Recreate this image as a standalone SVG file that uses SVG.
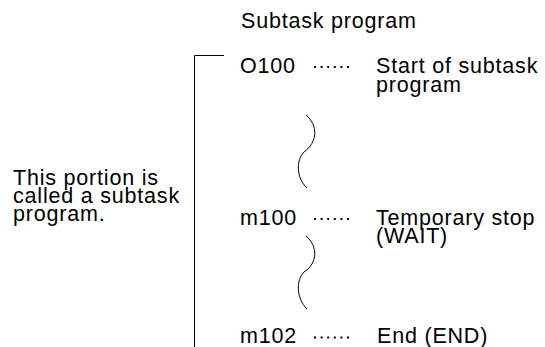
<svg xmlns="http://www.w3.org/2000/svg" width="545" height="347" viewBox="0 0 545 347">
<style>
text{font-family:"Liberation Sans",Arial,sans-serif;font-size:21.5px;letter-spacing:0.8px;fill:#000}
.ln{fill:none;stroke:#000;stroke-width:1}
.dot{fill:none;stroke:#000;stroke-width:2;stroke-dasharray:2 4.6}
</style>
<rect width="545" height="347" fill="#fff"/>
<text x="241" y="28">Subtask program</text>
<g id="bracket"><path class="ln" d="M224,55.5 H194.5 V347"/></g>
<g id="left-label">
<text x="13" y="185">This portion is</text>
<text x="13" y="203">called a subtask</text>
<text x="13" y="221">program.</text>
</g>
<g id="o100">
<text x="240" y="73">O100</text>
<path class="dot" d="M314,67 H350"/>
<text x="376" y="73">Start of subtask</text>
<text x="376" y="91.5">program</text>
</g>
<g id="m100">
<text x="240" y="225">m100</text>
<path class="dot" d="M314,219 H350"/>
<text x="376" y="225">Temporary stop</text>
<text x="376" y="243">(WAIT)</text>
</g>
<g id="m102">
<text x="240" y="343">m102</text>
<path class="dot" d="M314,337.5 H350"/>
<text x="377" y="343">End (END)</text>
</g>
<g id="connectors">
<path class="ln" d="M306,115 C318,125 318,142 304,152 C296,160 296,178 307,188"/>
<path class="ln" d="M306,236 C318,246 318,263 304,272 C296,280 296,298 307,309"/>
</g>
</svg>
